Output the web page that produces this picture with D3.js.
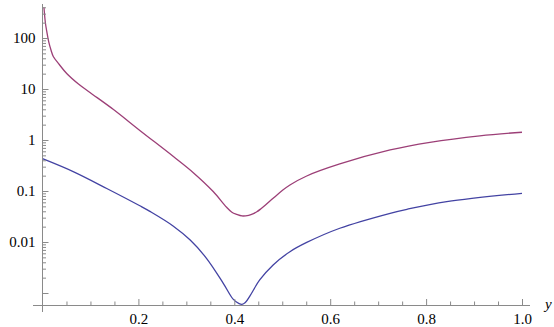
<!DOCTYPE html>
<html>
<head>
<meta charset="utf-8">
<script src="https://cdn.jsdelivr.net/npm/d3@7"></script>
<style>
  body { margin: 0; background: #fff; }
</style>
</head>
<body>
<svg id="chart" width="554" height="327"></svg>
<script>
// values (x, value)
var upperX = [0.003, 0.006, 0.0088, 0.013, 0.018, 0.0225, 0.035, 0.0505, 0.075, 0.099, 0.148, 0.203, 0.273, 0.3145, 0.356, 0.384, 0.395, 0.405, 0.416, 0.43, 0.44, 0.447, 0.455, 0.465, 0.481, 0.5, 0.516, 0.551, 0.62, 0.725, 0.808, 0.912, 1.0];
var upperY = [400, 199, 136, 84, 56.9, 43.4, 30.2, 20.1, 12.5, 8.54, 3.96, 1.54, 0.474, 0.229, 0.0977, 0.0479, 0.0382, 0.0347, 0.0324, 0.0334, 0.036, 0.0391, 0.0444, 0.0531, 0.0719, 0.102, 0.131, 0.197, 0.339, 0.637, 0.901, 1.21, 1.42];
var lowerX = [0.0, 0.064, 0.134, 0.203, 0.224, 0.273, 0.308, 0.342, 0.377, 0.398, 0.41, 0.416, 0.423, 0.4327, 0.453, 0.481, 0.516, 0.551, 0.62, 0.725, 0.76, 0.843, 1.0];
var lowerY = [0.43, 0.24, 0.112, 0.0513, 0.0398, 0.0204, 0.0109, 0.00479, 0.00155, 0.00075, 0.00062, 0.0006, 0.00065, 0.00088, 0.0018, 0.00355, 0.00645, 0.0098, 0.0186, 0.0366, 0.0438, 0.0617, 0.0902];

var xMajor = [0.2, 0.4, 0.6, 0.8, 1.0];
var xMinor = [0.05, 0.1, 0.15, 0.25, 0.3, 0.35, 0.45, 0.5, 0.55, 0.65, 0.7, 0.75, 0.85, 0.9, 0.95];
var yLabelled = [100, 10, 1, 0.1, 0.01];
var yUnlabelled = [0.001];
var yMinorSteps = [2, 3, 4, 5, 6, 7, 8, 9];

var serif = "'Liberation Serif', 'Times New Roman', Times, 'DejaVu Serif', serif";
var svg = d3.select("#chart");
var x = d3.scaleLinear().domain([0, 1]).range([42.5, 522]);
var y = d3.scaleLog().domain([0.001, 100]).range([293, 38]);
var axisY = 305, axisColor = "#8a8a8a";

// minor log ticks for each decade, kept inside the axis extent
var yMinor = [];
[0.001, 0.01, 0.1, 1, 10, 100].forEach(function(d){
  yMinorSteps.forEach(function(s){
    var v = d * s;
    if (y(v) > 4) yMinor.push(v);
  });
});

svg.append("clipPath").attr("id", "plotClip")
  .append("rect").attr("x", 40).attr("y", 0).attr("width", 500).attr("height", axisY);

var line = d3.line()
  .x(function(d){ return x(d[0]); })
  .y(function(d){ return y(d[1]); })
  .curve(d3.curveCatmullRom.alpha(0.5));

svg.append("path")
  .datum(upperX.map(function(v, i){ return [v, upperY[i]]; }))
  .attr("d", line)
  .attr("clip-path", "url(#plotClip)")
  .style("fill", "none").style("stroke", "#9c3f77").style("stroke-width", 1.3);

svg.append("path")
  .datum(lowerX.map(function(v, i){ return [v, lowerY[i]]; }))
  .attr("d", line)
  .attr("clip-path", "url(#plotClip)")
  .style("fill", "none").style("stroke", "#4343a3").style("stroke-width", 1.3);

function styleTicks(g){
  g.select(".domain").remove();
  g.selectAll("line").attr("stroke", axisColor);
  g.selectAll("text").attr("font-family", serif).attr("font-size", 15)
    .style("font-family", serif).style("font-size", "15px").attr("fill", "#000");
}

// x axis
svg.append("g").attr("transform", "translate(0," + axisY + ")")
  .call(d3.axisBottom(x).tickValues(xMinor).tickSize(-3.5).tickFormat(""))
  .call(styleTicks);
svg.append("g").attr("transform", "translate(0," + axisY + ")")
  .call(d3.axisBottom(x).tickValues(xMajor).tickSize(-6).tickPadding(8.5).tickFormat(d3.format(".1f")))
  .call(styleTicks);
svg.append("line")
  .attr("x1", 33).attr("x2", 530).attr("y1", axisY + 0.5).attr("y2", axisY + 0.5)
  .style("stroke", axisColor);

// y axis
svg.append("g").attr("transform", "translate(" + x(0) + ",0)")
  .call(d3.axisLeft(y).tickValues(yMinor).tickSize(-3.5).tickFormat(""))
  .call(styleTicks);
svg.append("g").attr("transform", "translate(" + x(0) + ",0)")
  .call(d3.axisLeft(y).tickValues(yUnlabelled).tickSize(-6).tickFormat(""))
  .call(styleTicks);
svg.append("g").attr("transform", "translate(" + x(0) + ",0)")
  .call(d3.axisLeft(y).tickValues(yLabelled).tickSize(-6).tickPadding(7).tickFormat(function(d){ return String(d); }))
  .call(styleTicks);
svg.append("line")
  .attr("x1", x(0)).attr("x2", x(0)).attr("y1", 4).attr("y2", 312)
  .style("stroke", axisColor);

svg.append("text")
  .attr("x", 545).attr("y", 309)
  .style("font-family", serif).style("font-size", "15px").style("font-style", "italic")
  .text("y");
</script>
</body>
</html>
